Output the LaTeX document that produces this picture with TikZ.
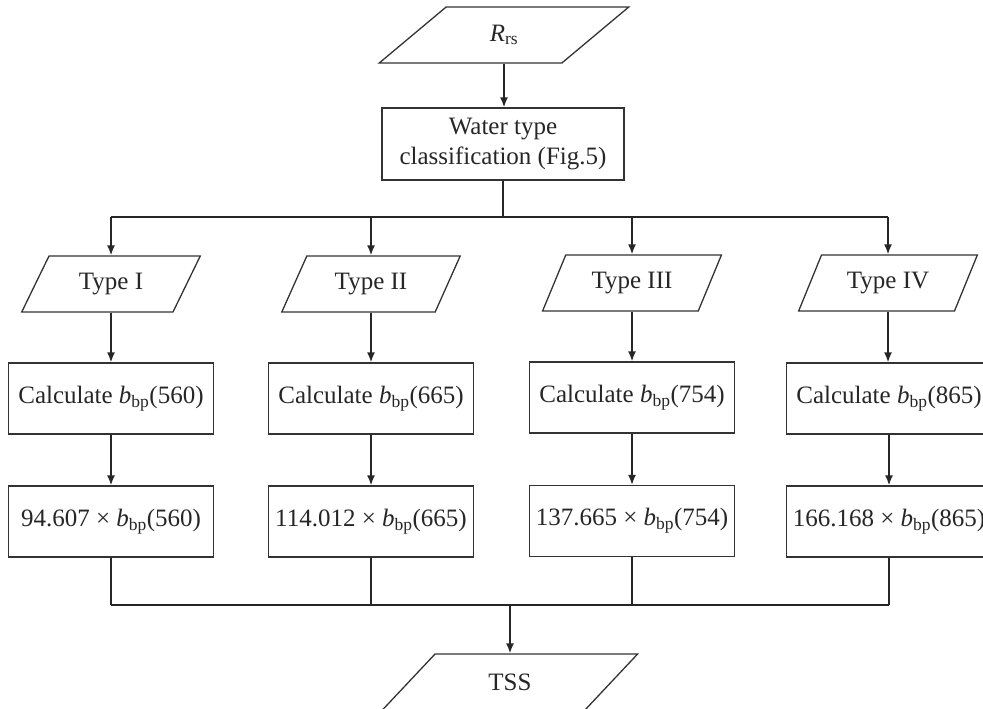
\documentclass[tikz,border=0pt]{standalone}
\usepackage{fontspec}
\setmainfont{Liberation Serif}
\usepackage{amsmath}
\usetikzlibrary{shapes.geometric,arrows.meta}
\newcommand{\bbp}{\textit{b}$_{\text{bp}}$}
\begin{document}
\begin{tikzpicture}[x=1pt,y=-1pt,
  every node/.style={font=\fontsize{25}{30}\selectfont, inner sep=0pt, text=black!85},
  para/.style={draw=black!80, line width=1.3pt, trapezium, trapezium stretches=true,
     trapezium left angle=#1, trapezium right angle={180-#1}},
  para/.default=57,
  boxn/.style={draw=black!80, line width=1.3pt, rectangle, minimum width=205pt, minimum height=71pt},
  conn/.style={draw=black!85, line width=1.6pt},
  arr/.style={conn, -{Latex[length=10pt,width=8pt]}}
]
\useasboundingbox (0,0) rectangle (983,709);
% top
\node[para=51, minimum width=250pt, minimum height=56pt] (rrs) at (504,35) {\textit{R}$_{\text{rs}}$};
\node[boxn, minimum width=242pt, minimum height=72pt, align=center] (wt) at (503,144) {Water type\\classification (Fig.5)};
% types
\node[para, minimum width=179pt, minimum height=56pt] (t1) at (111,284) {Type I};
\node[para, minimum width=179pt, minimum height=56pt] (t2) at (371,284) {Type II};
\node[para, minimum width=179pt, minimum height=56pt] (t3) at (632,283) {Type III};
\node[para, minimum width=179pt, minimum height=56pt] (t4) at (888,283) {Type IV};
% calc
\node[boxn] (c1) at (111,398.5) {Calculate \bbp(560)};
\node[boxn] (c2) at (371,398.5) {Calculate \bbp(665)};
\node[boxn] (c3) at (632,397.5) {Calculate \bbp(754)};
\node[boxn] (c4) at (889,398.5) {Calculate \bbp(865)};
% results
\node[boxn] (r1) at (111,521.5) {94.607 × \bbp(560)};
\node[boxn] (r2) at (371,521.5) {114.012 × \bbp(665)};
\node[boxn] (r3) at (632,521) {137.665 × \bbp(754)};
\node[boxn] (r4) at (889,521.5) {166.168 × \bbp(865)};
% output
\node[para=48, minimum width=256pt, minimum height=56pt] (tss) at (510,682) {TSS};
% connectors
\coordinate (bus) at (503,217);
\coordinate (busL) at (111,217);
\coordinate (busR) at (888,217);
\coordinate (sum) at (510,605);
\coordinate (sumL) at (111,605);
\coordinate (sumR) at (889,605);
\draw[arr] (rrs.south) -- (rrs.south |- wt.north);
\draw[conn] (wt.south) -- (bus);
\draw[conn] (busL) -- (busR);
\foreach \t in {t1,t2,t3,t4} \draw[arr] (\t.north |- bus) -- (\t.north);
\foreach \i in {1,2,3,4} {
  \draw[arr] (t\i.south) -- (t\i.south |- c\i.north);
  \draw[arr] (c\i.south) -- (r\i.north);
  \draw[conn] (r\i.south) -- (r\i.south |- sum);
}
\draw[conn] (sumL) -- (sumR);
\draw[arr] (sum) -- (tss.north);
\end{tikzpicture}
\end{document}
